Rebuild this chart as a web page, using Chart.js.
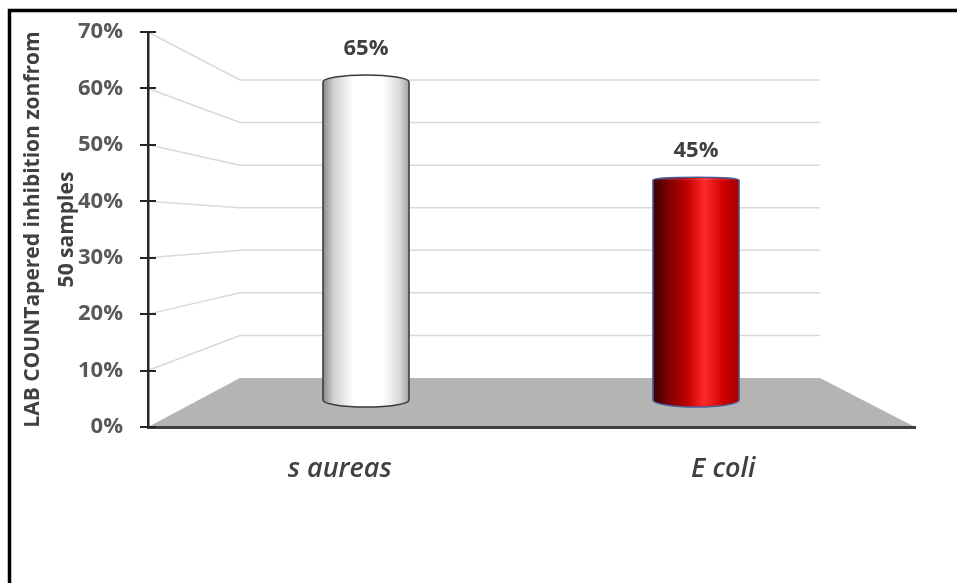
<!DOCTYPE html>
<html>
<head>
<meta charset="utf-8">
<script src="https://cdn.jsdelivr.net/npm/chart.js@4/dist/chart.umd.min.js"></script>
<style>
  html, body { margin: 0; padding: 0; background: #fff; }
  #wrap { width: 957px; height: 583px; }
</style>
</head>
<body>
<div id="wrap"><canvas id="labChart" width="957" height="583"></canvas></div>
<script>
// Chart data
const categories = ['s aureas', 'E coli'];
const values = [65, 45];
const yTicks = [0, 10, 20, 30, 40, 50, 60, 70];
const yTitle = ['LAB COUNTapered inhibition zonfrom', '50 samples'];

// 3D look: back wall / floor geometry
const wall = { left: 240, right: 820, bottom: 378, top: 80 };
const barColors = [
    { stops: [[0, '#8a8a8a'], [0.12, '#cfcfcf'], [0.35, '#ffffff'], [0.7, '#ffffff'], [0.9, '#d6d6d6'], [1, '#a3a3a3']], edge: '#3a3a3a' },
    { stops: [[0, '#3a0000'], [0.15, '#750000'], [0.4, '#c40000'], [0.6, '#ff2b2b'], [0.82, '#cf0000'], [1, '#a00000']], edge: '#4a5f9a' }
];
const barWidth = 86;

function sideGradient(ctx, cx, i) {
    if (!isFinite(cx)) return barColors[i].stops[2][1];
    const g = ctx.createLinearGradient(cx - barWidth / 2, 0, cx + barWidth / 2, 0);
    barColors[i].stops.forEach(s => g.addColorStop(s[0], s[1]));
    return g;
}

function wallY(v) {
    const top = yTicks[yTicks.length - 1];
    return wall.bottom - (wall.bottom - wall.top) * v / top;
}

// background: frame, back wall gridlines, floor
const scenePlugin = {
    id: 'scene',
    beforeDraw(chart) {
        const ctx = chart.ctx;
        const y = chart.scales.y;
        const x = chart.scales.x;
        ctx.save();
        ctx.fillStyle = '#fff';
        ctx.fillRect(0, 0, chart.width, chart.height);

        ctx.strokeStyle = '#000';
        ctx.lineWidth = 3.5;
        ctx.strokeRect(9.5, 10.5, 1200, 1200);

        ctx.strokeStyle = '#d9d9d9';
        ctx.lineWidth = 1.5;
        yTicks.forEach(v => {
            if (v === 0) return;
            const py = y.getPixelForValue(v);
            ctx.beginPath();
            ctx.moveTo(y.right, py);
            ctx.lineTo(wall.left, wallY(v));
            ctx.lineTo(wall.right, wallY(v));
            ctx.stroke();
        });

        const base = y.getPixelForValue(0);
        ctx.fillStyle = '#b4b4b4';
        ctx.beginPath();
        ctx.moveTo(y.right, base);
        ctx.lineTo(wall.left, wallY(0));
        ctx.lineTo(wall.right, wallY(0));
        ctx.lineTo(x.right, base);
        ctx.closePath();
        ctx.fill();
        ctx.restore();
    },
    afterDraw(chart) {
        // inner half of the y tick marks
        const ctx = chart.ctx;
        const y = chart.scales.y;
        ctx.save();
        ctx.strokeStyle = '#262626';
        ctx.lineWidth = 2;
        yTicks.forEach(v => {
            const py = Math.round(y.getPixelForValue(v));
            ctx.beginPath();
            ctx.moveTo(y.right, py);
            ctx.lineTo(y.right + 8, py);
            ctx.stroke();
        });
        ctx.restore();
    }
};

// cylinder caps and value labels
const cylinderPlugin = {
    id: 'cylinders',
    afterDatasetsDraw(chart) {
        const ctx = chart.ctx;
        const meta = chart.getDatasetMeta(0);
        const eyeY = 241;
        const k = 0.044;
        meta.data.forEach((bar, i) => {
            const rx = bar.width / 2;
            const ryTop = Math.max(2, k * Math.abs(eyeY - bar.y));
            const ryBot = Math.max(2, k * Math.abs(bar.base - eyeY));
            const fill = sideGradient(ctx, bar.x, i);
            ctx.save();
            ctx.strokeStyle = barColors[i].edge;
            ctx.lineWidth = 1.5;

            // bottom half ellipse
            ctx.fillStyle = fill;
            ctx.beginPath();
            ctx.ellipse(bar.x, bar.base, rx, ryBot, 0, 0, Math.PI);
            ctx.fill();
            ctx.stroke();

            // sides
            ctx.beginPath();
            ctx.moveTo(bar.x - rx, bar.y);
            ctx.lineTo(bar.x - rx, bar.base);
            ctx.moveTo(bar.x + rx, bar.y);
            ctx.lineTo(bar.x + rx, bar.base);
            ctx.stroke();

            // top cap, seen from below: only the upper arc shows
            ctx.beginPath();
            ctx.ellipse(bar.x, bar.y, rx, ryTop, 0, Math.PI, Math.PI * 2);
            ctx.fill();
            ctx.stroke();

            ctx.fillStyle = '#404040';
            ctx.font = 'bold 22px "Open Sans"';
            ctx.textAlign = 'center';
            ctx.textBaseline = 'middle';
            ctx.fillText(values[i] + '%', bar.x, bar.y - ryTop - 26);
            ctx.restore();
        });
    }
};

document.addEventListener('DOMContentLoaded', () => {
    const canvas = document.getElementById('labChart');
    new Chart(canvas, {
        type: 'bar',
        data: {
            labels: categories,
            datasets: [{
                label: 'LAB count',
                data: values.map((v, i) => ({ x: i, y: v })),
                xAxisID: 'x2',
                yAxisID: 'y2',
                barThickness: barWidth,
                backgroundColor: c => {
                    const xs = c.chart.scales.x2;
                    const cx = xs ? xs.getPixelForValue(c.dataIndex) : NaN;
                    return sideGradient(c.chart.ctx, cx, c.dataIndex || 0);
                },
                borderWidth: 0
            }]
        },
        options: {
            responsive: false,
            animation: false,
            layout: { padding: { left: 12, top: 32, right: 42, bottom: 0 } },
            plugins: {
                legend: { display: false },
                tooltip: { enabled: false }
            },
            scales: {
                x: {
                    type: 'category',
                    offset: true,
                    grid: { display: false },
                    border: { display: true, color: '#404040', width: 3 },
                    ticks: {
                        color: '#404040',
                        padding: 18,
                        font: { family: 'Open Sans', size: 27, style: 'italic', weight: '600' }
                    },
                    afterFit: s => { s.height = 156; }
                },
                y: {
                    type: 'linear',
                    min: yTicks[0],
                    max: yTicks[yTicks.length - 1],
                    grid: {
                        display: true,
                        drawOnChartArea: false,
                        drawTicks: true,
                        tickLength: 8,
                        color: '#262626',
                        lineWidth: 2
                    },
                    border: { display: true, color: '#262626', width: 2.5 },
                    ticks: {
                        stepSize: yTicks[1] - yTicks[0],
                        padding: 17,
                        color: '#595959',
                        font: { family: 'Open Sans', size: 22, weight: 'bold' },
                        callback: v => v + '%'
                    },
                    title: {
                        display: true,
                        text: yTitle,
                        color: '#404040',
                        padding: { top: 4, bottom: 0 },
                        font: { family: 'Open Sans', size: 21, weight: 'bold', lineHeight: 1.62 }
                    },
                    afterFit: s => { s.width = 136; }
                },
                x2: {
                    type: 'linear',
                    display: false,
                    offset: false,
                    min: -0.6606,
                    max: 1.6636
                },
                y2: {
                    type: 'linear',
                    display: false,
                    min: -5.52,
                    max: 75.22
                }
            }
        },
        plugins: [scenePlugin, cylinderPlugin]
    });
});
</script>
</body>
</html>
